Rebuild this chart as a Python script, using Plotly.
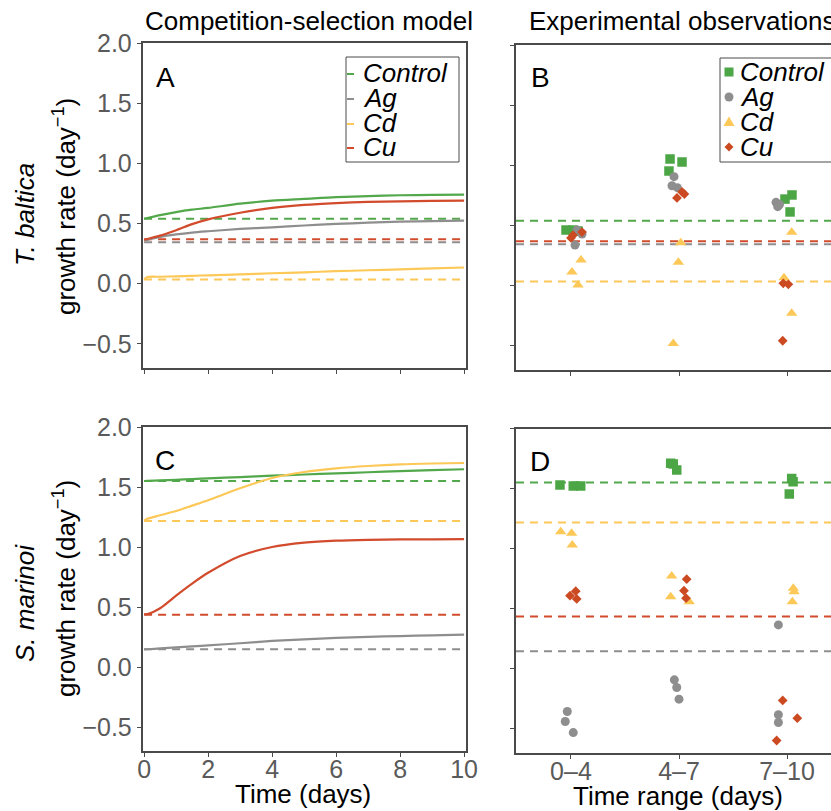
import plotly.graph_objects as go

W, H = 831, 811

# ---------------- data ----------------
treatments = ["Control", "Ag", "Cd", "Cu"]
colors = ["#52A84A", "#8E8E8E", "#FCC858", "#D14B2C"]
marker_colors = ["#4DA646", "#8E8E8E", "#FCC858", "#CB4A22"]
symbols = ["square", "circle", "triangle-up", "diamond"]
marker_sizes = [9.5, 9, 10, 7.5]

# model time (days)
t_model = [0, 0.1, 0.5, 1, 1.5, 2, 3, 4, 5, 6, 7, 8, 9, 10]

# T. baltica model (panel A)
tb_control = [0.54, 0.546, 0.57, 0.595, 0.615, 0.63, 0.665, 0.69, 0.705, 0.72, 0.728, 0.735, 0.738, 0.74]
tb_ag = [0.36, 0.365, 0.39, 0.41, 0.425, 0.436, 0.455, 0.469, 0.484, 0.497, 0.507, 0.516, 0.521, 0.525]
tb_cd = [0.035, 0.055, 0.058, 0.062, 0.066, 0.07, 0.078, 0.087, 0.095, 0.104, 0.112, 0.12, 0.128, 0.135]
tb_cu = [0.365, 0.372, 0.40, 0.445, 0.495, 0.535, 0.59, 0.63, 0.655, 0.67, 0.68, 0.685, 0.688, 0.69]
tb_baseline = [0.54, 0.345, 0.035, 0.37]

# S. marinoi model (panel C)
sm_control = [1.55, 1.551, 1.555, 1.56, 1.566, 1.572, 1.583, 1.594, 1.604, 1.614, 1.623, 1.632, 1.64, 1.648]
sm_ag = [0.147, 0.148, 0.155, 0.163, 0.172, 0.18, 0.198, 0.217, 0.23, 0.242, 0.251, 0.258, 0.264, 0.27]
sm_cd = [1.22, 1.235, 1.265, 1.30, 1.345, 1.39, 1.49, 1.575, 1.625, 1.655, 1.675, 1.689, 1.696, 1.70]
sm_cu = [0.44, 0.441, 0.49, 0.595, 0.695, 0.785, 0.925, 1.0, 1.036, 1.053, 1.06, 1.063, 1.064, 1.065]
sm_baseline = [1.55, 0.147, 1.217, 0.436]

# observations: time-range categories (positions 1,2,3 with read-off jitter)
time_ranges = ["0\u20134", "4\u20137", "7\u201310"]

tb_obs_control_x = [0.954, 1.019, 1.065, 1.917, 2.028, 1.907, 2.981, 3.046, 3.028]
tb_obs_control_y = [0.463, 0.463, 0.455, 1.053, 1.028, 0.953, 0.72, 0.754, 0.613]
tb_obs_ag_x = [1.056, 1.102, 1.037, 1.954, 1.935, 1.985, 2.898, 2.914, 2.93]
tb_obs_ag_y = [0.463, 0.43, 0.338, 0.906, 0.831, 0.815, 0.693, 0.657, 0.675]
tb_obs_cd_x = [1.093, 1.009, 1.065, 2.016, 1.994, 1.947, 3.043, 2.972, 3.043]
tb_obs_cd_y = [0.214, 0.114, 0.006, 0.357, 0.195, -0.479, 0.444, 0.066, -0.229]
tb_obs_cu_x = [1.0, 1.019, 1.102, 1.981, 2.028, 2.05, 2.965, 3.012, 2.96]
tb_obs_cu_y = [0.397, 0.42, 0.446, 0.729, 0.779, 0.762, 0.02, 0.012, -0.457]

sm_obs_control_x = [0.898, 1.021, 1.09, 1.923, 1.979, 1.947, 3.043, 3.056, 3.021]
sm_obs_control_y = [1.53, 1.521, 1.521, 1.71, 1.654, 1.705, 1.585, 1.557, 1.455]
sm_obs_ag_x = [0.966, 0.947, 1.021, 1.957, 1.979, 2.0, 2.92, 2.92, 2.92]
sm_obs_ag_y = [-0.355, -0.438, -0.53, -0.091, -0.155, -0.252, 0.366, -0.382, -0.446]
sm_obs_cd_x = [0.905, 1.006, 1.012, 1.932, 1.923, 2.095, 3.058, 3.049, 3.065]
sm_obs_cd_y = [1.141, 1.128, 1.031, 0.773, 0.601, 0.559, 0.671, 0.559, 0.642]
sm_obs_cu_x = [0.991, 1.044, 1.053, 2.071, 2.046, 2.065, 2.96, 3.095, 2.904]
sm_obs_cu_y = [0.609, 0.646, 0.582, 0.746, 0.651, 0.588, -0.263, -0.41, -0.596]

y_ticks = [-0.5, 0.0, 0.5, 1.0, 1.5, 2.0]
t_ticks = [0, 2, 4, 6, 8, 10]

# ---------------- helpers ----------------
FONT = "Liberation Sans, Arial, Helvetica, sans-serif"
AXC = "#4a4a4a"
TICKC = "#5a5a5a"


def fx(p):
    return p / W


def fy(p):
    return 1 - p / H


fig = go.Figure()

model_A = [tb_control, tb_ag, tb_cd, tb_cu]
model_C = [sm_control, sm_ag, sm_cd, sm_cu]
obs_B = [(tb_obs_control_x, tb_obs_control_y), (tb_obs_ag_x, tb_obs_ag_y),
         (tb_obs_cd_x, tb_obs_cd_y), (tb_obs_cu_x, tb_obs_cu_y)]
obs_D = [(sm_obs_control_x, sm_obs_control_y), (sm_obs_ag_x, sm_obs_ag_y),
         (sm_obs_cd_x, sm_obs_cd_y), (sm_obs_cu_x, sm_obs_cu_y)]

# model panels
for (xa, ya, models, base) in [("x", "y", model_A, tb_baseline), ("x3", "y3", model_C, sm_baseline)]:
    for i, name in enumerate(treatments):
        fig.add_trace(go.Scatter(x=[t_model[0], t_model[-1]], y=[base[i], base[i]], mode="lines",
                                 line=dict(color=colors[i], width=2, dash="8px,6px"),
                                 xaxis=xa, yaxis=ya, showlegend=False, hoverinfo="skip"))
    for i, name in enumerate(treatments):
        fig.add_trace(go.Scatter(x=t_model, y=models[i], mode="lines", name=name,
                                 line=dict(color=colors[i], width=2.2, shape="spline", smoothing=0.8),
                                 xaxis=xa, yaxis=ya, showlegend=False))

# observation panels
for (xa, ya, obs, base) in [("x2", "y2", obs_B, tb_baseline), ("x4", "y4", obs_D, sm_baseline)]:
    for i, name in enumerate(treatments):
        fig.add_shape(type="line", xref=xa + " domain", x0=0, x1=1, yref=ya, y0=base[i], y1=base[i],
                      line=dict(color=colors[i], width=2, dash="8px,6px"), layer="below")
    for i, name in enumerate(treatments):
        xs, ys = obs[i]
        fig.add_trace(go.Scatter(x=xs, y=ys, mode="markers", name=name,
                                 marker=dict(symbol=symbols[i], size=marker_sizes[i], color=marker_colors[i],
                                             line=dict(width=0)),
                                 xaxis=xa, yaxis=ya, showlegend=False))

common = dict(showline=True, linecolor=AXC, linewidth=1.5, ticks="outside", ticklen=4,
              tickcolor=AXC, tickwidth=1.2, showgrid=False, zeroline=False, automargin=False,
              tickfont=dict(family=FONT, size=25, color=TICKC))

fig.update_layout(
    width=W, height=H, autosize=False,
    margin=dict(l=0, r=0, t=0, b=0, pad=0, autoexpand=False),
    paper_bgcolor="white", plot_bgcolor="white",
    font=dict(family=FONT), showlegend=False,
    xaxis=dict(domain=[fx(142.5), fx(466)], range=[-0.05, 10.06], tickvals=t_ticks,
               showticklabels=False, mirror=True, anchor="y", **common),
    yaxis=dict(domain=[fy(368), fy(43)], range=[-0.7, 2.0], tickvals=y_ticks, tickformat=".1f",
               mirror=True, anchor="x", **common),
    xaxis2=dict(domain=[fx(516), 1.0], range=[0.491, 3.407], tickvals=[1, 2, 3],
                showticklabels=False, mirror=True, anchor="y2", **common),
    yaxis2=dict(domain=[fy(370), fy(45)], range=[-0.7, 2.0], tickvals=y_ticks,
                showticklabels=False, mirror=False, anchor="x2", **common),
    xaxis3=dict(domain=[fx(142.5), fx(466)], range=[-0.05, 10.06], tickvals=t_ticks,
                mirror=True, anchor="y3", ticklabelstandoff=-9, **common),
    yaxis3=dict(domain=[fy(751), fy(427)], range=[-0.7, 2.0], tickvals=y_ticks, tickformat=".1f",
                mirror=True, anchor="x3", **common),
    xaxis4=dict(domain=[fx(516), 1.0], range=[0.491, 3.407], tickvals=[1, 2, 3], ticktext=time_ranges,
                mirror=True, anchor="y4", ticklabelstandoff=-9, **common),
    yaxis4=dict(domain=[fy(753), fy(428.5)], range=[-0.7, 2.0], tickvals=y_ticks,
                showticklabels=False, mirror=False, anchor="x4", **common),
)

ann = []


def text(s, x, y, size=26, color="black", xanchor="center", angle=0):
    ann.append(dict(text=s, x=fx(x), y=fy(y), xref="paper", yref="paper", showarrow=False,
                    xanchor=xanchor, yanchor="middle", textangle=angle,
                    font=dict(family=FONT, size=size, color=color)))


text("Competition-selection model", 309, 21)
text("Experimental observations", 527, 21, xanchor="left")
text("A", 165, 77, size=28)
text("B", 540, 77, size=28)
text("C", 165, 460, size=28)
text("D", 540, 461, size=28)
text("<i>T. baltica</i>", 25, 215, size=26, angle=-90)
text("growth rate (day<sup>\u22121</sup>)", 64, 207, size=26, angle=-90)
text("<i>S. marinoi</i>", 25, 603, size=26, angle=-90)
text("growth rate (day<sup>\u22121</sup>)", 64, 589, size=26, angle=-90)
text("Time (days)", 303, 794, size=26)
text("Time range (days)", 678, 796, size=26)

shapes = []
# legend A (lines)
shapes.append(dict(type="rect", xref="paper", yref="paper", x0=fx(346), x1=fx(459), y0=fy(162), y1=fy(57),
                   line=dict(color=AXC, width=1), fillcolor="rgba(0,0,0,0)"))
rows_A = [73, 98, 123, 147]
for i, name in enumerate(treatments):
    shapes.append(dict(type="line", xref="paper", yref="paper", x0=fx(347), x1=fx(354),
                       y0=fy(rows_A[i] + 1), y1=fy(rows_A[i] + 1), line=dict(color=colors[i], width=2)))
    text("<i>" + name + "</i>", 361, rows_A[i], size=26, xanchor="left")

# legend B (markers)
shapes.append(dict(type="rect", xref="paper", yref="paper", x0=fx(720), x1=fx(900), y0=fy(162), y1=fy(58),
                   line=dict(color=AXC, width=1), fillcolor="rgba(0,0,0,0)"))
rows_B = [72, 97, 122, 147]
mx = 729
r = 4.5
shapes.append(dict(type="rect", xref="paper", yref="paper", x0=fx(mx - r), x1=fx(mx + r),
                   y0=fy(rows_B[0] + r), y1=fy(rows_B[0] - r), line=dict(width=0), fillcolor=marker_colors[0]))
shapes.append(dict(type="circle", xref="paper", yref="paper", x0=fx(mx - r), x1=fx(mx + r),
                   y0=fy(rows_B[1] + r), y1=fy(rows_B[1] - r), line=dict(width=0), fillcolor=marker_colors[1]))
yc = rows_B[2]
shapes.append(dict(type="path", xref="paper", yref="paper",
                   path=f"M {fx(mx-5.5)} {fy(yc+4)} L {fx(mx+5.5)} {fy(yc+4)} L {fx(mx)} {fy(yc-5.5)} Z",
                   line=dict(width=0), fillcolor=marker_colors[2]))
yc = rows_B[3]
shapes.append(dict(type="path", xref="paper", yref="paper",
                   path=f"M {fx(mx)} {fy(yc-4.5)} L {fx(mx+4.5)} {fy(yc)} L {fx(mx)} {fy(yc+4.5)} L {fx(mx-4.5)} {fy(yc)} Z",
                   line=dict(width=0), fillcolor=marker_colors[3]))
for i, name in enumerate(treatments):
    text("<i>" + name + "</i>", 738, rows_B[i], size=26, xanchor="left")

fig.update_layout(annotations=ann)
for s in shapes:
    fig.add_shape(**s)

fig.write_html("out.html", config={"displayModeBar": False},
               post_script="document.body.style.margin='0';document.body.style.overflow='hidden';"
                           "document.documentElement.style.overflow='hidden';")
